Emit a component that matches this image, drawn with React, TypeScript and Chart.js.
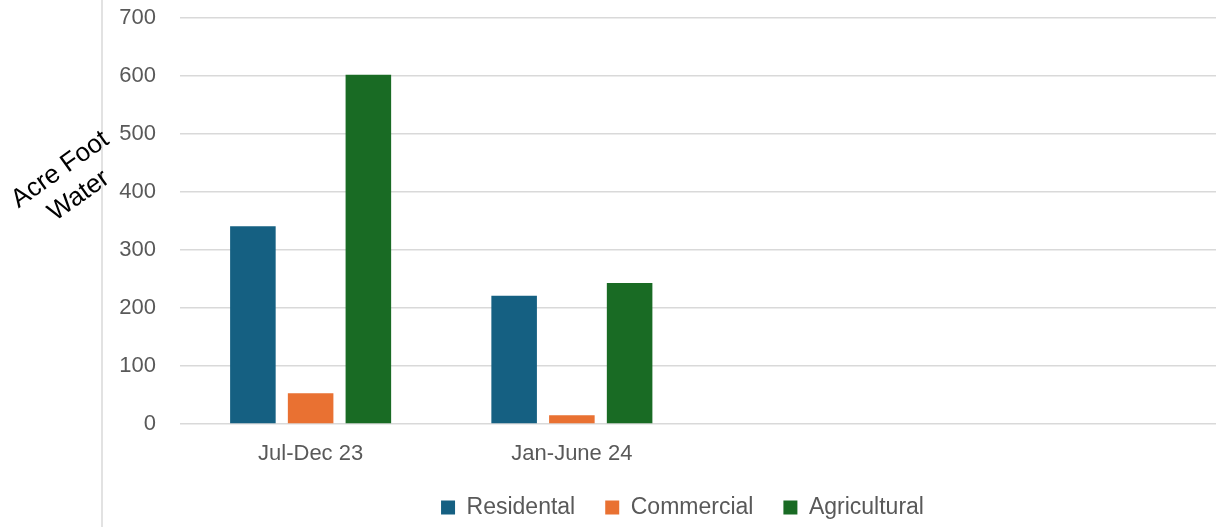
import React, { useEffect, useRef } from "react";
import { Chart, registerables } from "chart.js";

Chart.register(...registerables);

const categories = ["Jul-Dec 23", "Jan-June 24", "", ""];
const residental = [341, 221, null, null];
const commercial = [53, 15, null, null];
const agricultural = [602, 243, null, null];
const seriesNames = ["Residental", "Commercial", "Agricultural"];
const seriesColors = ["#156082", "#E97132", "#196B24"];
const yTitleLines = ["Acre Foot", "Water"];

const FONT = "'Liberation Sans', Arial, sans-serif";

const decorPlugin = {
  id: "decor",
  afterLayout(chart: any) {
    if (chart.legend) {
      chart.legend.left = 140;
      chart.legend.top += 2;
      chart.legend.bottom += 2;
    }
  },
  afterDraw(chart: any) {
    const ctx = chart.ctx;
    ctx.save();
    ctx.strokeStyle = "#d9d9d9";
    ctx.lineWidth = 1.5;
    ctx.beginPath();
    ctx.moveTo(102, 0);
    ctx.lineTo(102, chart.height);
    ctx.stroke();
    ctx.translate(69, 182);
    ctx.rotate((-35.6 * Math.PI) / 180);
    ctx.fillStyle = "#000000";
    ctx.font = `26px ${FONT}`;
    ctx.textAlign = "center";
    ctx.textBaseline = "middle";
    ctx.fillText(yTitleLines[0], 0, -15);
    ctx.fillText(yTitleLines[1], 0, 17);
    ctx.restore();
  },
};

export default function App() {
  const ref = useRef<HTMLCanvasElement>(null);
  useEffect(() => {
    if (!ref.current) return;
    const data = [residental, commercial, agricultural];
    const chart = new Chart(ref.current, {
      type: "bar",
      data: {
        labels: categories,
        datasets: seriesNames.map((name, i) => ({
          label: name,
          data: data[i] as any,
          backgroundColor: seriesColors[i],
          borderWidth: 0,
          categoryPercentage: 0.663,
          barPercentage: 0.789,
        })),
      },
      options: {
        animation: false,
        responsive: false,
        devicePixelRatio: 1,
        layout: { padding: { left: 0, right: 75, top: 18, bottom: 0 } },
        plugins: {
          tooltip: { enabled: false },
          legend: {
            position: "bottom",
            labels: {
              boxWidth: 14,
              boxHeight: 14,
              padding: 30,
              color: "#595959",
              font: { family: FONT, size: 23 },
            },
          },
        },
        scales: {
          x: {
            afterFit: (scale: any) => {
              scale.height = 40;
              scale.paddingLeft = 0;
              scale.paddingRight = 0;
            },
            grid: { display: false, drawTicks: false },
            border: { display: false },
            ticks: {
              color: "#595959",
              padding: 17,
              font: { family: FONT, size: 22 },
              maxRotation: 0,
            },
          },
          y: {
            min: 0,
            max: 700,
            afterFit: (scale: any) => {
              scale.width = 180;
              scale.paddingTop = 0;
              scale.paddingBottom = 0;
            },
            grid: { color: "#d9d9d9", lineWidth: 1.5, drawTicks: false },
            border: { display: false },
            ticks: {
              stepSize: 100,
              color: "#595959",
              padding: 24,
              font: { family: FONT, size: 22 },
            },
          },
        },
      },
      plugins: [decorPlugin],
    });
    return () => chart.destroy();
  }, []);
  return (
    <div
      style={{
        position: "fixed",
        left: 0,
        top: 0,
        width: 1216,
        height: 527,
        overflow: "hidden",
        background: "#ffffff",
      }}
    >
      <canvas ref={ref} width={1300} height={527} style={{ display: "block" }} />
    </div>
  );
}
